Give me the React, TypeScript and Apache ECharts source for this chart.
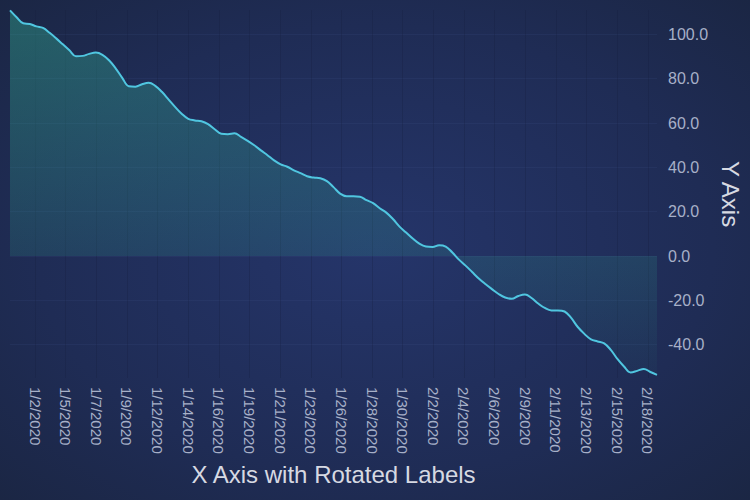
import React, { useEffect, useRef } from "react";
import * as echarts from "echarts";

// Series start (UTC) and half-day sampling step
const startDate = Date.UTC(2020, 0, 1);
const stepMs = 12 * 3600 * 1000;

// Y values, one every half day from 1/1/2020 to 2/19/2020
const yValues: number[] = [
  110.8, 107.7, 105.0, 104.7, 103.6, 102.9, 100.7, 98.2, 95.5, 92.8,
  90.1, 90.3, 91.2, 91.8, 90.8, 88.3, 84.7, 80.4, 76.6, 76.4,
  77.5, 78.2, 76.8, 74.1, 70.7, 67.3, 64.2, 61.9, 61.2, 60.8,
  59.5, 57.2, 55.2, 55.0, 55.4, 53.8, 52.0, 50.0, 47.7, 45.5,
  43.2, 41.4, 40.3, 38.7, 37.4, 36.0, 35.4, 35.1, 33.8, 31.1,
  28.2, 27.0, 27.0, 26.8, 25.2, 23.9, 21.6, 19.6, 16.7, 13.3,
  10.6, 7.9, 5.6, 4.3, 4.1, 4.9, 4.3, 1.6, -1.6, -4.3,
  -7.2, -10.1, -12.6, -14.9, -17.1, -18.7, -19.3, -18.0, -17.3, -18.9,
  -21.4, -23.4, -24.5, -24.5, -25.0, -27.9, -32.0, -35.1, -37.6, -38.5,
  -39.4, -42.3, -46.4, -49.8, -52.5, -51.8, -50.9, -52.3, -53.6,
];

// X tick positions, in days after 1/1/2020 (labels show the date part)
const xTickDays: number[] = [
  1.9, 4.22, 6.54, 8.86, 11.18, 13.5, 15.82, 18.14, 20.46, 22.78, 25.1,
  27.42, 29.74, 32.06, 34.38, 36.7, 39.02, 41.34, 43.66, 45.98, 48.3,
];

// Y tick values
const yTicks: number[] = [-40, -20, 0, 20, 40, 60, 80, 100];

const xTitle = "X Axis with Rotated Labels";
const yTitle = "Y Axis";

export default function App() {
  const ref = useRef<HTMLDivElement>(null);

  useEffect(() => {
    if (!ref.current) return;
    const chart = echarts.init(ref.current, undefined, { renderer: "svg" });
    const dayMs = 24 * 3600 * 1000;
    const seriesData = yValues.map((v, i) => [startDate + i * stepMs, v]);
    const xTickValues = xTickDays.map((d) => startDate + d * dayMs);
    const xMin = startDate;
    const xMax = startDate + (yValues.length - 1) * stepMs;
    const font = "Liberation Sans, Arial, sans-serif";

    chart.setOption({
      animation: false,
      backgroundColor: new echarts.graphic.RadialGradient(0.5, 0.5, 0.75, [
        { offset: 0, color: "#25356a" },
        { offset: 0.6, color: "#1f2c55" },
        { offset: 1, color: "#1a2541" },
      ]),
      grid: {
        left: 10,
        right: 93,
        top: 10,
        bottom: 122,
        outerBoundsMode: "none",
        containLabel: false,
      },
      xAxis: {
        type: "value",
        min: xMin,
        max: xMax,
        name: xTitle,
        nameLocation: "middle",
        nameGap: 84,
        nameTextStyle: { color: "#d6d9e2", fontSize: 24, fontFamily: font },
        axisLine: { show: false },
        axisTick: { show: false, customValues: xTickValues },
        axisLabel: {
          customValues: xTickValues,
          rotate: -90,
          margin: 9,
          color: "#a7b0c8",
          fontSize: 15,
          fontFamily: font,
          formatter: (v: number) => {
            const d = new Date(v);
            return `${d.getUTCMonth() + 1}/${d.getUTCDate()}/${d.getUTCFullYear()}`;
          },
        },
        splitLine: {
          show: true,
          lineStyle: { color: "rgba(18,28,60,0.25)", width: 1 },
        },
      },
      yAxis: {
        type: "value",
        position: "right",
        min: -55,
        max: 111,
        name: yTitle,
        nameLocation: "middle",
        nameRotate: -90,
        nameGap: 57,
        nameTextStyle: { color: "#d6d9e2", fontSize: 24, fontFamily: font },
        axisLine: { show: false },
        axisTick: { show: false, customValues: yTicks },
        axisLabel: {
          customValues: yTicks,
          margin: 11,
          color: "#a7b0c8",
          fontSize: 16,
          fontFamily: font,
          formatter: (v: number) => v.toFixed(1),
        },
        splitLine: {
          show: true,
          lineStyle: { color: "rgba(70,90,150,0.14)", width: 1 },
        },
      },
      series: [
        {
          type: "line",
          data: seriesData,
          smooth: 0.4,
          showSymbol: false,
          symbol: "none",
          lineStyle: { color: "#50c6e0", width: 2 },
          areaStyle: {
            origin: 0,
            color: new echarts.graphic.LinearGradient(0, 0, 0, 1, [
              { offset: 0, color: "rgba(55,200,160,0.5)" },
              { offset: 1, color: "rgba(55,200,160,0.04)" },
            ]),
          },
        },
      ],
    });

    return () => chart.dispose();
  }, []);

  return (
    <div
      ref={ref}
      style={{ position: "absolute", left: 0, top: 0, width: 750, height: 500 }}
    />
  );
}
